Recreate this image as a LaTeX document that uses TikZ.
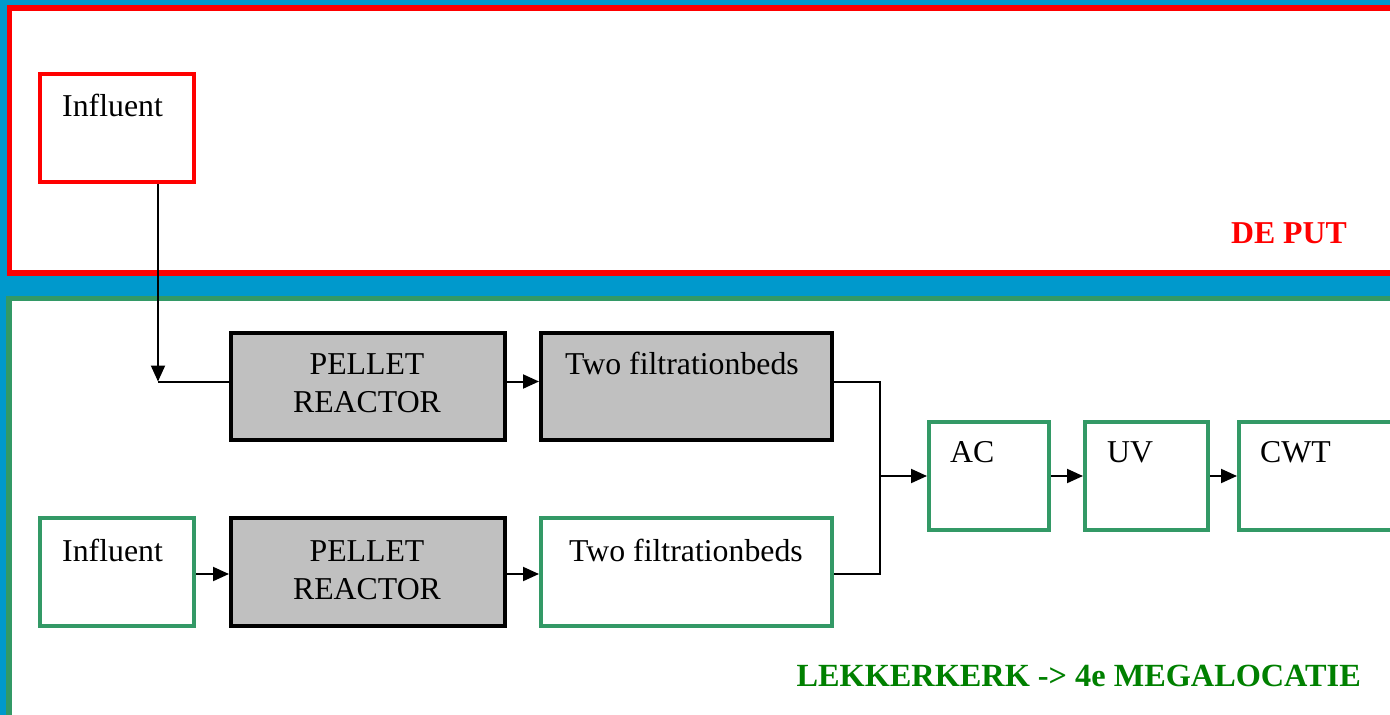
\documentclass[tikz,border=0pt]{standalone}
\usepackage{fontspec}
\setmainfont{Liberation Serif}
\usetikzlibrary{arrows.meta}
\definecolor{bgblue}{HTML}{0099CC}
\definecolor{boxgreen}{HTML}{339966}
\definecolor{labgreen}{HTML}{008000}
\definecolor{boxgray}{HTML}{C0C0C0}
\tikzset{
  frame/.style={line width=5.5pt, fill=white},
  redbox/.style={draw=red, line width=4pt, fill=white, rectangle, inner sep=0pt},
  greenbox/.style={draw=boxgreen, line width=4pt, fill=white, rectangle, inner sep=0pt},
  graybox/.style={draw=black, line width=4pt, fill=boxgray, rectangle, inner sep=0pt},
  txt/.style={anchor=base west, inner sep=0pt, font=\fontsize{31.8}{38}\selectfont},
  ctxt/.style={anchor=base, inner sep=0pt, font=\fontsize{31.8}{38}\selectfont},
  lab/.style={anchor=base east, inner sep=0pt, font=\fontsize{31.8}{38}\selectfont\bfseries},
  conn/.style={line width=2pt},
  arr/.style={line width=2pt, -{Triangle[length=16pt,width=14pt]}},
}
\begin{document}
\begin{tikzpicture}[x=1pt,y=-1pt]
\useasboundingbox (0,0) rectangle (1390,715);
\clip (0,0) rectangle (1390,715);
\fill[bgblue] (0,0) rectangle (1390,715);
% frames
\draw[frame, draw=red] (9.5,8) rectangle (1420,273);
\draw[frame, draw=boxgreen] (9,298.5) rectangle (1420,740);
% top area
\node[redbox, minimum width=154pt, minimum height=108pt] (inf1) at (117,128) {};
\node[txt] (inf1t) at (62,116) {Influent};
\node[lab, text=red] (deput) at (1347,243) {DE PUT};
% row 1
\node[graybox, minimum width=274pt, minimum height=107pt] (r1) at (368,386.5) {};
\node[ctxt] (r1a) at (367,374) {PELLET};
\node[ctxt] (r1b) at (367,412) {REACTOR};
\node[graybox, minimum width=291pt, minimum height=107pt] (f1) at (686.5,386.5) {};
\node[txt] (f1t) at (565,374) {Two filtrationbeds};
% row 2
\node[greenbox, minimum width=154pt, minimum height=108pt] (inf2) at (117,572) {};
\node[txt] (inf2t) at (62,561) {Influent};
\node[graybox, minimum width=274pt, minimum height=108pt] (r2) at (368,572) {};
\node[ctxt] (r2a) at (367,561) {PELLET};
\node[ctxt] (r2b) at (367,599) {REACTOR};
\node[greenbox, minimum width=291pt, minimum height=108pt] (f2) at (686.5,572) {};
\node[txt] (f2t) at (569,561) {Two filtrationbeds};
% right
\node[greenbox, minimum width=120pt, minimum height=108pt] (ac) at (989,476) {};
\node[txt] (act) at (950,462) {AC};
\node[greenbox, minimum width=123pt, minimum height=108pt] (uv) at (1146.5,476) {};
\node[txt] (uvt) at (1107,462) {UV};
\node[greenbox, minimum width=200pt, minimum height=108pt] (cwt) at (1339,476) {};
\node[txt] (cwtt) at (1260,462) {CWT};
\node[lab, text=labgreen, font=\fontsize{32.3}{38}\selectfont\bfseries] (lek) at (1361,686) {LEKKERKERK -> 4e MEGALOCATIE};
% connectors
\coordinate (j1) at (158,381.5);
\coordinate (j2) at (880,476);
\draw[arr] (inf1.south -| j1) -- (j1);
\draw[conn] (j1) -- (j1 -| r1.west);
\draw[arr] (r1.east |- 0,381.5) -- (f1.west |- 0,381.5);
\draw[conn] (f1.east |- 0,381.5) -| (j2) |- (f2.east |- 0,574);
\draw[arr] (j2) -- (ac.west);
\draw[arr] (ac.east) -- (uv.west);
\draw[arr] (uv.east) -- (cwt.west);
\draw[arr] (inf2.east |- 0,574) -- (r2.west |- 0,574);
\draw[arr] (r2.east |- 0,574) -- (f2.west |- 0,574);
\end{tikzpicture}
\end{document}
